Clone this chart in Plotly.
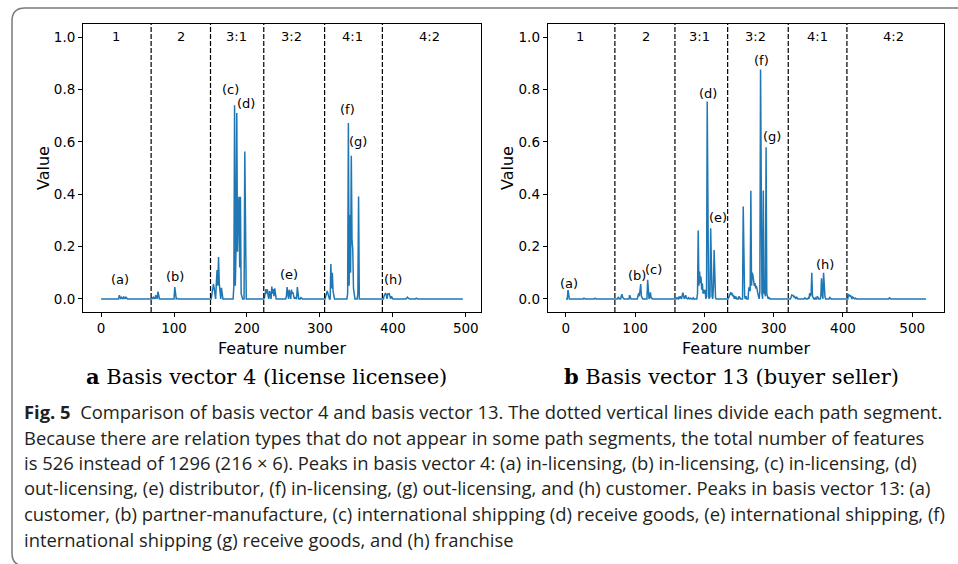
import numpy as np
import plotly.graph_objects as go

W, H = 958, 564

# ---------------- data ----------------
# Basis vector 4 (license licensee): non-zero features (index -> value)
a_len = 497
a_idx = [25, 26, 28, 31, 32, 34, 35,
         70, 72, 73, 75, 76, 78, 79, 101, 102, 104,
         152, 153, 154, 155, 156, 158, 159, 160, 161, 162, 163, 165, 166,
         182, 183, 184, 185, 186, 187, 188, 189, 190, 191, 192, 197,
         224, 225, 226, 227, 228, 229, 231, 232, 234, 235, 236, 237, 238, 239,
         254, 255, 256, 258, 259, 261, 262, 263, 264, 266, 269, 270, 274,
         308, 309, 310, 311, 312, 315, 316, 317, 318,
         338, 339, 340, 341, 342, 343, 344, 345, 346, 352, 353,
         388, 389, 390, 391, 393, 394, 395, 396, 398, 399, 419, 420, 421, 432]
a_val = [0.014, 0.004, 0.006, 0.009, 0.004, 0.008, 0.003,
         0.004, 0.006, 0.003, 0.014, 0.006, 0.028, 0.002, 0.045, 0.004, 0.002,
         0.020, 0.050, 0.057, 0.040, 0.015, 0.060, 0.110, 0.050, 0.160, 0.060, 0.020, 0.042, 0.005,
         0.050, 0.740, 0.050, 0.190, 0.710, 0.180, 0.330, 0.390, 0.120, 0.390, 0.020, 0.563,
         0.005, 0.030, 0.037, 0.020, 0.037, 0.010, 0.030, 0.015, 0.047, 0.020, 0.038, 0.010, 0.040, 0.005,
         0.010, 0.045, 0.020, 0.035, 0.015, 0.035, 0.020, 0.025, 0.012, 0.005, 0.045, 0.010, 0.005,
         0.010, 0.028, 0.030, 0.020, 0.005, 0.133, 0.040, 0.100, 0.030,
         0.020, 0.672, 0.050, 0.320, 0.100, 0.547, 0.225, 0.190, 0.040, 0.020, 0.391,
         0.012, 0.020, 0.022, 0.015, 0.019, 0.018, 0.020, 0.005, 0.010, 0.003, 0.004, 0.007, 0.003, 0.003]

# Basis vector 13 (buyer seller): non-zero features (index -> value)
b_len = 521
b_idx = [3, 4, 26, 42,
         75, 76, 80, 81, 82, 92, 93, 104, 105, 106, 107, 108, 109, 118, 119, 121, 122, 123,
         160, 163, 165, 168, 169, 170, 172, 173, 174, 177, 180, 184,
         190, 191, 192, 193, 194, 195, 196, 197, 198, 199, 200, 201, 203, 204, 205, 206,
         208, 209, 210, 211, 213, 214, 215, 216,
         235, 236, 237, 238, 239, 240, 241, 242, 244, 246, 250, 256, 257, 258, 260,
         264, 265, 266, 267, 268, 269, 270, 271, 272, 273, 274, 275, 276, 277, 278,
         280, 281, 282, 283, 285, 286, 287, 288, 289, 290, 291, 293,
         325, 326, 327, 328, 329, 330, 331, 333, 345, 350, 352, 353, 354, 355, 356,
         360, 363, 368, 369, 370, 372, 373, 374, 381,
         408, 409, 410, 411, 412, 414, 415, 418, 467]
b_val = [0.034, 0.005, 0.003, 0.003,
         0.004, 0.006, 0.012, 0.018, 0.005, 0.014, 0.003, 0.010, 0.022, 0.010, 0.030, 0.057, 0.010, 0.073, 0.040, 0.005, 0.025, 0.005,
         0.004, 0.008, 0.010, 0.015, 0.024, 0.010, 0.006, 0.014, 0.003, 0.005, 0.003, 0.004,
         0.020, 0.261, 0.050, 0.105, 0.060, 0.085, 0.035, 0.060, 0.020, 0.035, 0.020, 0.035, 0.010, 0.754, 0.030, 0.010,
         0.010, 0.270, 0.030, 0.010, 0.050, 0.187, 0.010, 0.005,
         0.005, 0.015, 0.020, 0.025, 0.018, 0.020, 0.010, 0.015, 0.010, 0.008, 0.010, 0.353, 0.020, 0.010, 0.010,
         0.040, 0.045, 0.030, 0.413, 0.050, 0.100, 0.090, 0.070, 0.050, 0.060, 0.040, 0.050, 0.030, 0.025, 0.010,
         0.030, 0.876, 0.040, 0.020, 0.414, 0.020, 0.030, 0.010, 0.579, 0.020, 0.005, 0.005,
         0.005, 0.015, 0.014, 0.012, 0.008, 0.010, 0.006, 0.008, 0.004, 0.004, 0.022, 0.010, 0.020, 0.100, 0.010,
         0.004, 0.010, 0.008, 0.079, 0.020, 0.100, 0.010, 0.010, 0.005,
         0.018, 0.015, 0.010, 0.012, 0.008, 0.007, 0.004, 0.003, 0.004]

# Path segment boundaries and labels
a_bounds = [68.6, 150, 223, 306.4, 385.6]
b_bounds = [70.7, 157.4, 233.5, 321, 405.7]
seg_names = ["1", "2", "3:1", "3:2", "4:1", "4:2"]
a_seg_x = [20.6, 109.8, 186, 261.6, 344, 450.5]
b_seg_x = [20.2, 115, 193.5, 274.3, 362.9, 473.6]

# Peak labels
peak_names = ["(a)", "(b)", "(c)", "(d)", "(e)", "(f)", "(g)", "(h)"]
a_peak_x = [26, 101.5, 177, 198, 257, 338.4, 352, 400]
a_peak_y = [0.073, 0.085, 0.80, 0.748, 0.092, 0.723, 0.602, 0.073]
b_peak_x = [4.8, 103, 126, 205.5, 219, 282.5, 297.4, 374]
b_peak_y = [0.060, 0.089, 0.111, 0.784, 0.311, 0.911, 0.621, 0.130]

x_ticks = [0, 100, 200, 300, 400, 500]
y_ticks = [0.0, 0.2, 0.4, 0.6, 0.8, 1.0]

caption_lines = [
    "<b>Fig. 5</b>\u00a0\u00a0Comparison of basis vector 4 and basis vector 13. The dotted vertical lines divide each path segment.",
    "Because there are relation types that do not appear in some path segments, the total number of features",
    "is 526 instead of 1296 (216 \u00d7 6). Peaks in basis vector 4: (a) in-licensing, (b) in-licensing, (c) in-licensing, (d)",
    "out-licensing, (e) distributor, (f) in-licensing, (g) out-licensing, and (h) customer. Peaks in basis vector 13: (a)",
    "customer, (b) partner-manufacture, (c) international shipping (d) receive goods, (e) international shipping, (f)",
    "international shipping (g) receive goods, and (h) franchise",
]

# ---------------- figure ----------------
def series(n, idx, val):
    y = np.zeros(n)
    y[idx] = val
    return y

def px_x(p):
    return p / W

def px_y(p):
    return 1 - p / H

BLUE = "#1f77b4"
SANS = "DejaVu Sans"

fig = go.Figure()
fig.add_trace(go.Scatter(x=np.arange(a_len), y=series(a_len, a_idx, a_val),
                         mode="lines", line=dict(color=BLUE, width=1.5),
                         xaxis="x", yaxis="y", showlegend=False))
fig.add_trace(go.Scatter(x=np.arange(b_len), y=series(b_len, b_idx, b_val),
                         mode="lines", line=dict(color=BLUE, width=1.5),
                         xaxis="x2", yaxis="y2", showlegend=False))

axis_common = dict(showgrid=False, zeroline=False, showline=True, linecolor="black",
                   linewidth=1, mirror=True, ticks="outside", ticklen=4, tickwidth=1,
                   tickcolor="black", tickfont=dict(family=SANS, size=13.5, color="black"))

title_font = dict(family=SANS, size=16, color="black")
ytop, ybot = 24, 312
fig.update_layout(
    width=W, height=H, autosize=False,
    margin=dict(l=0, r=0, t=0, b=0),
    paper_bgcolor="white", plot_bgcolor="white",
    xaxis=dict(domain=[px_x(83), px_x(481)], range=[-24.8, 520.8], tickvals=x_ticks,
               title=dict(text="Feature number", font=title_font, standoff=7),
               anchor="y", **axis_common),
    yaxis=dict(domain=[px_y(ybot), px_y(ytop)], range=[-0.05, 1.05], tickvals=y_ticks,
               tickformat=".1f",
               title=dict(text="Value", font=title_font, standoff=0),
               anchor="x", **axis_common),
    xaxis2=dict(domain=[px_x(547.7), px_x(944.3)], range=[-26.3, 546.3], tickvals=x_ticks,
                title=dict(text="Feature number", font=title_font, standoff=7),
                anchor="y2", **axis_common),
    yaxis2=dict(domain=[px_y(ybot), px_y(ytop)], range=[-0.05, 1.05], tickvals=y_ticks,
                tickformat=".1f",
                title=dict(text="Value", font=title_font, standoff=0),
                anchor="x2", **axis_common),
)

shapes = []
annotations = []
for xr, yr, bounds, seg_x, pk_x, pk_y in [("x", "y", a_bounds, a_seg_x, a_peak_x, a_peak_y),
                                         ("x2", "y2", b_bounds, b_seg_x, b_peak_x, b_peak_y)]:
    for bx in bounds:
        shapes.append(dict(type="line", xref=xr, yref=yr + " domain", x0=bx, x1=bx, y0=0, y1=1,
                           line=dict(color="black", width=1.2, dash="5px,2px")))
    for name, sx in zip(seg_names, seg_x):
        annotations.append(dict(xref=xr, yref=yr, x=sx, y=1.003, text=name, showarrow=False,
                                xanchor="center", yanchor="middle",
                                font=dict(family=SANS, size=13, color="black")))
    for name, qx, qy in zip(peak_names, pk_x, pk_y):
        annotations.append(dict(xref=xr, yref=yr, x=qx, y=qy, text=name, showarrow=False,
                                xanchor="center", yanchor="middle",
                                font=dict(family=SANS, size=13, color="black")))

# Sub-figure captions
SERIF = "DejaVu Serif"
annotations.append(dict(xref="paper", yref="paper", x=px_x(266.5), y=px_y(376),
                        text="<b>a</b> Basis vector 4 (license licensee)", showarrow=False,
                        xanchor="center", yanchor="middle",
                        font=dict(family=SERIF, size=21, color="black")))
annotations.append(dict(xref="paper", yref="paper", x=px_x(731), y=px_y(376),
                        text="<b>b</b> Basis vector 13 (buyer seller)", showarrow=False,
                        xanchor="center", yanchor="middle",
                        font=dict(family=SERIF, size=21, color="black")))

# Figure caption, one line at a time
cap_y = [411, 437, 462, 487, 513, 539]
for line, cy in zip(caption_lines, cap_y):
    annotations.append(dict(xref="paper", yref="paper", x=px_x(22), y=px_y(cy),
                            text=line, showarrow=False, xanchor="left", yanchor="middle",
                            font=dict(family="Open Sans", size=18.4, color="#231f20")))

# Rounded frame around the figure
def pt(x, y):
    return f"{px_x(x):.5f},{px_y(y):.5f}"

frame = (f"M {pt(960, 8)} L {pt(25, 8)} Q {pt(12, 8)} {pt(12, 21)} "
         f"L {pt(12, 553)} Q {pt(12, 566)} {pt(25, 566)} L {pt(960, 566)}")
shapes.append(dict(type="path", xref="paper", yref="paper", path=frame,
                   line=dict(color="#7a7a7a", width=1.5)))

fig.update_layout(shapes=shapes, annotations=annotations)
fig.write_html("out.html")
